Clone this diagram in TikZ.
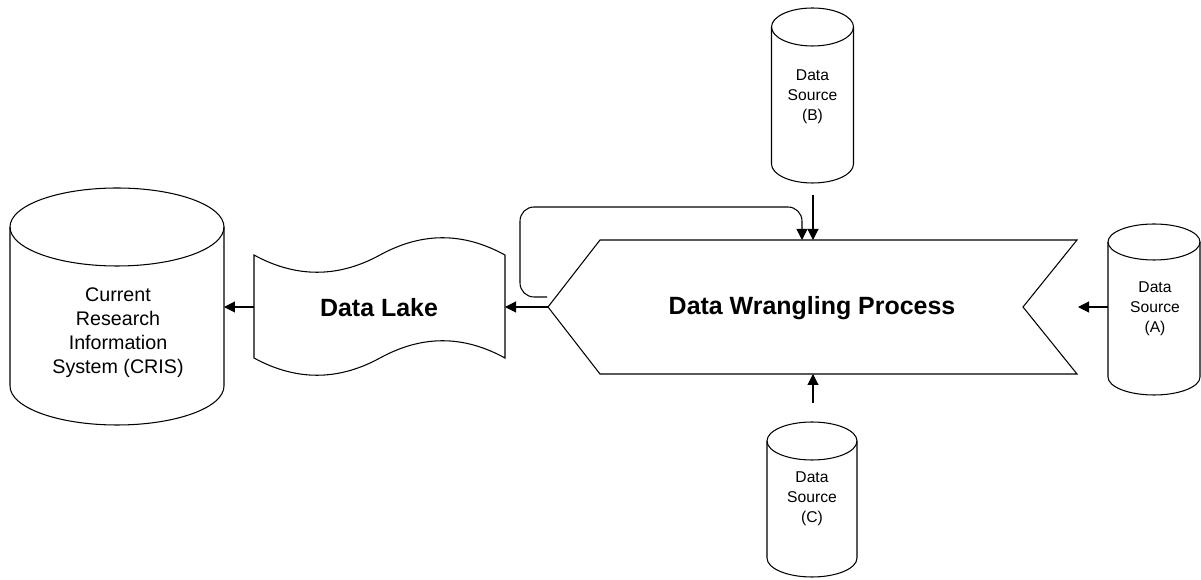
\documentclass[tikz,border=0pt]{standalone}
\usepackage{fontspec}
\setmainfont{Liberation Sans}
\usetikzlibrary{arrows.meta}

\tikzset{
  flow/.style={-{Triangle[length=2.2mm,width=2.2mm]}},
  srctext/.style={align=center,font=\fontsize{8.9}{11.3}\selectfont},
  bigtext/.style={font=\fontsize{14.2}{17}\selectfont\bfseries}
}

\begin{document}
\begin{tikzpicture}[x=0.02cm,y=-0.02cm,line width=0.6pt]
\useasboundingbox (0,0) rectangle (1201,580);
% corner points of the wrangling chevron
\coordinate (W1) at (600,240);
\coordinate (W2) at (1077,240);
\coordinate (W3) at (1023,307);
\coordinate (W4) at (1077,374);
\coordinate (W5) at (600,374);
\coordinate (W6) at (548,307);
\draw (W1) -- (W2) -- (W3) -- (W4) -- (W5) -- (W6) -- cycle;
\node[bigtext] (wrangle) at (812,308) {Data Wrangling Process};

% data lake
\draw (254,255) .. controls (296,278) and (338,278) .. (380,255)
  .. controls (422,232) and (463,232) .. (505,255) -- (505,358)
  .. controls (463,335) and (422,335) .. (380,358)
  .. controls (338,381) and (296,381) .. (254,358) -- cycle;
\node[bigtext] (lake) at (379,308) {Data Lake};
\coordinate (lakeL) at (254,307);
\coordinate (lakeR) at (505,307);

% CRIS
\draw (117,227) ellipse [x radius=107, y radius=39];
\draw (10,227) -- (10,386) arc [start angle=180, end angle=0, x radius=107, y radius=39] -- (224,227);
\node[align=center,font=\fontsize{11.2}{13.6}\selectfont] (cris) at (118,333)
  {Current\\Research\\Information\\System (CRIS)};
\coordinate (crisR) at (224,307);

% source A
\draw (1154,242) ellipse [x radius=46, y radius=18];
\draw (1108,242) -- (1108,377) arc [start angle=180, end angle=0, x radius=46, y radius=18] -- (1200,242);
\node[srctext] (srcA) at (1155,309) {Data\\Source\\(A)};
\coordinate (srcAL) at (1108,307);

% source B
\draw (812.5,27) ellipse [x radius=41, y radius=19];
\draw (771.5,27) -- (771.5,164) arc [start angle=180, end angle=0, x radius=41, y radius=19] -- (853.5,27);
\node[srctext] (srcB) at (812.5,97) {Data\\Source\\(B)};
\coordinate (srcBb) at (813,195);

% source C
\draw (812,441) ellipse [x radius=45, y radius=19];
\draw (767,441) -- (767,558) arc [start angle=180, end angle=0, x radius=45, y radius=19] -- (857,441);
\node[srctext] (srcC) at (812,499) {Data\\Source\\(C)};
\coordinate (srcCt) at (813,403);

% connectors
\draw[flow] (srcAL) -- (1078,307);
\draw[flow] (srcBb) -- (813,240);
\draw[flow] (srcCt) -- (813,374);
\draw[flow] (W6) -- (lakeR);
\draw[flow] (lakeL) -- (crisR);
\draw[flow,rounded corners=8] (547,297) -- (520,297) -- (520,207) -- (802,207) -- (802,240);
\end{tikzpicture}
\end{document}
